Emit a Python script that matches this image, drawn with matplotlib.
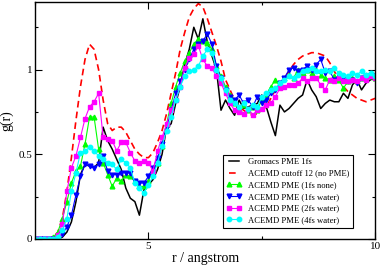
import numpy as np
import matplotlib
matplotlib.use("Agg")
import matplotlib.pyplot as plt

plt.rcParams["font.family"] = ["Liberation Serif", "DejaVu Serif"]
plt.rcParams["mathtext.fontset"] = "stix"

# sampling grid of the radial distribution (angstrom)
r = np.round(np.arange(2.5, 10.01, 0.1), 1)

gromacs_pme = [
    0, 0, 0, 0, 0, 0, 0.01, 0.04, 0.10, 0.22,
    0.38, 0.44, 0.43, 0.42, 0.45, 0.66, 0.58, 0.53, 0.47, 0.41,
    0.30, 0.24, 0.22, 0.14, 0.29, 0.32, 0.35, 0.41, 0.50, 0.66,
    0.68, 0.80, 0.90, 1.03, 1.12, 1.25, 1.18, 1.30, 1.16, 1.08,
    1.00, 0.76, 0.82, 0.77, 0.73, 0.82, 0.77, 0.78, 0.79, 0.80,
    0.85, 0.78, 0.69, 0.61, 0.79, 0.75, 0.77, 0.80, 0.83, 0.85,
    0.94, 0.88, 0.84, 0.77, 0.80, 0.82, 0.81, 0.81, 0.86, 0.83,
    0.91, 0.94, 0.88, 0.92, 0.94, 0.95,
]
cutoff_12 = [
    0, 0, 0, 0, 0.01, 0.04, 0.12, 0.28, 0.48, 0.70,
    0.90, 1.06, 1.15, 1.12, 1.00, 0.82, 0.68, 0.64, 0.66, 0.66,
    0.63, 0.58, 0.53, 0.50, 0.48, 0.48, 0.51, 0.57, 0.64, 0.74,
    0.86, 0.98, 1.12, 1.22, 1.31, 1.36, 1.39, 1.37, 1.30, 1.22,
    1.14, 1.05, 0.94, 0.88, 0.82, 0.78, 0.76, 0.74, 0.73, 0.74,
    0.76, 0.78, 0.83, 0.88, 0.92, 0.95, 0.99, 1.03, 1.06, 1.08,
    1.09, 1.10, 1.10, 1.09, 1.08, 1.04, 0.99, 0.94, 0.90, 0.87,
    0.85, 0.83, 0.82, 0.81, 0.82, 0.83,
]
pme_1fs_none = [
    0, 0, 0, 0, 0.01, 0.04, 0.12, 0.22, 0.33, 0.40,
    0.43, 0.56, 0.72, 0.72, 0.53, 0.45, 0.38, 0.31, 0.36, 0.34,
    0.38, 0.37, 0.34, 0.31, 0.31, 0.34, 0.41, 0.45, 0.55, 0.68,
    0.80, 0.90, 0.98, 1.05, 1.10, 1.15, 1.18, 1.17, 1.16, 1.12,
    1.02, 0.96, 0.90, 0.85, 0.80, 0.77, 0.79, 0.76, 0.78, 0.76,
    0.82, 0.85, 0.90, 0.94, 0.90, 0.95, 0.97, 0.95, 1.00, 0.98,
    1.00, 0.98, 1.00, 0.97, 0.95, 0.94, 0.96, 0.94, 0.89, 0.93,
    0.95, 0.93, 0.95, 0.97, 0.96, 0.95,
]
pme_1fs_water = [
    0, 0, 0, 0, 0, 0.01, 0.03, 0.07, 0.14, 0.26,
    0.37, 0.44, 0.43, 0.42, 0.44, 0.49, 0.40, 0.38, 0.38, 0.39,
    0.39, 0.39, 0.34, 0.33, 0.33, 0.37, 0.42, 0.48, 0.56, 0.66,
    0.76, 0.86, 0.93, 1.00, 1.06, 1.12, 1.15, 1.17, 1.21, 1.15,
    1.02, 0.95, 0.88, 0.84, 0.82, 0.85, 0.80, 0.82, 0.78, 0.84,
    0.80, 0.82, 0.86, 0.88, 0.92, 0.95, 1.00, 1.01, 0.99, 1.00,
    1.02, 1.00, 1.03, 1.06, 0.98, 0.99, 0.94, 0.97, 0.95, 0.93,
    0.94, 0.92, 0.95, 0.96, 0.97, 0.96,
]
pme_2fs_water = [
    0, 0, 0, 0, 0, 0.02, 0.09, 0.28, 0.42, 0.49,
    0.60, 0.71, 0.78, 0.81, 0.86, 0.60, 0.59, 0.58, 0.52, 0.57,
    0.57, 0.51, 0.46, 0.45, 0.46, 0.45, 0.40, 0.52, 0.60, 0.68,
    0.76, 0.82, 0.90, 1.01, 1.07, 1.09, 1.14, 1.06, 1.02, 1.01,
    0.96, 0.92, 0.86, 0.80, 0.76, 0.75, 0.74, 0.77, 0.73, 0.76,
    0.77, 0.79, 0.80, 0.84, 0.89, 0.90, 0.91, 0.91, 0.92, 0.95,
    0.93, 0.95, 0.95, 0.91, 0.88, 0.94, 0.93, 0.95, 0.93, 0.93,
    0.94, 0.93, 0.95, 0.94, 0.96, 0.95,
]
pme_4fs_water = [
    0, 0, 0, 0, 0, 0.01, 0.05, 0.12, 0.28, 0.39,
    0.51, 0.52, 0.54, 0.52, 0.49, 0.47, 0.45, 0.44, 0.41, 0.47,
    0.45, 0.42, 0.33, 0.30, 0.27, 0.32, 0.37, 0.45, 0.55, 0.64,
    0.72, 0.82, 0.90, 0.96, 0.99, 1.00, 1.02, 1.08, 1.12, 1.10,
    1.00, 0.95, 0.88, 0.82, 0.80, 0.78, 0.80, 0.77, 0.79, 0.78,
    0.84, 0.86, 0.88, 0.89, 0.92, 0.94, 0.96, 0.95, 0.97, 0.99,
    1.00, 1.01, 0.99, 0.99, 1.00, 0.99, 1.01, 0.98, 0.97, 0.96,
    0.98, 0.97, 0.99, 0.97, 0.98, 0.96,
]

fig = plt.figure(figsize=(3.82, 2.69), dpi=100)
ax = fig.add_axes([0.092, 0.112, 0.890, 0.881])

ax.plot(r, gromacs_pme, color="black", lw=1.1, label="Gromacs PME 1fs")
ax.plot(r, cutoff_12, color="red", lw=1.2, ls=(0, (4, 2.5)), label="ACEMD cutoff 12 (no PME)")
ax.plot(r, pme_1fs_none, color="#00ff00", lw=0.8, marker="^", ms=3.4, label="ACEMD PME (1fs none)")
ax.plot(r, pme_1fs_water, color="#0000ff", lw=0.8, marker="v", ms=3.4, label="ACEMD PME (1fs water)")
ax.plot(r, pme_2fs_water, color="#ff00ff", lw=0.8, marker="s", ms=3.0, label="ACEMD PME (2fs water)")
ax.plot(r, pme_4fs_water, color="#00ffff", lw=0.8, marker="o", ms=3.2, label="ACEMD PME (4fs water)")

ax.set_xlim(2.5, 10)
ax.set_ylim(0, 1.4)
ax.set_xticks([5, 10])
ax.set_xticks([2.5, 7.5], minor=True)
ax.set_yticks([0, 0.5, 1])
ax.set_yticklabels(["0", "0.5", "1"])
ax.set_yticks([0.25, 0.75, 1.25], minor=True)
ax.tick_params(which="both", direction="in", top=True, right=True, labelsize=8, pad=2)
ax.tick_params(which="major", length=5, width=0.8)
ax.tick_params(which="minor", length=2.5, width=0.8)
for s in ax.spines.values():
    s.set_linewidth(1.0)

ax.set_xlabel("r / angstrom", fontsize=10, labelpad=1)
ax.set_ylabel("g(r)", fontsize=10, labelpad=4)

leg = ax.legend(loc="upper left", bbox_to_anchor=(0.552, 0.356), fontsize=6.2,
                frameon=True, fancybox=False, edgecolor="black", framealpha=1,
                borderpad=0.4, labelspacing=0.42, handlelength=1.8,
                handletextpad=0.7, borderaxespad=0, numpoints=2)
leg.get_frame().set_linewidth(0.8)

fig.savefig("out.png", dpi=100)
